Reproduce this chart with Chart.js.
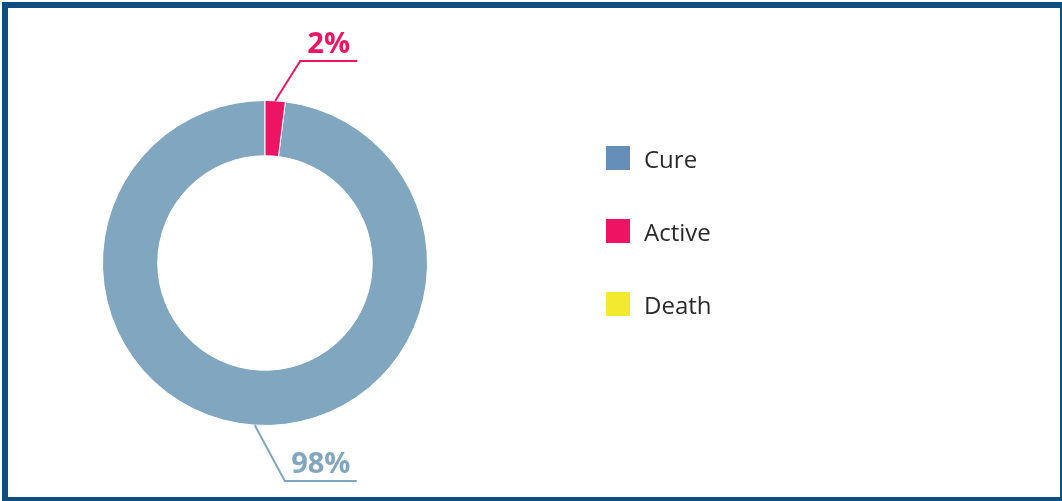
<!DOCTYPE html>
<html>
<head>
<meta charset="utf-8">
<script src="https://cdn.jsdelivr.net/npm/chart.js@4/dist/chart.umd.min.js"></script>
<style>
  html, body { margin: 0; padding: 0; background: #fff; }
  body { width: 1062px; height: 501px; position: relative; overflow: hidden; font-family: "Open Sans", sans-serif; }
  .frame { position: absolute; left: 2px; top: 2px; width: 1064px; height: 501px; border: 6px solid #0e4d80; box-sizing: border-box; }
  #chart { position: absolute; left: 0; top: 0; }
  .legend { position: absolute; left: 606px; top: 146px; margin: 0; padding: 0; list-style: none; }
  .legend li { display: flex; align-items: center; height: 24px; margin-bottom: 49px; font-size: 24px; color: #2a2a2a; }
  .legend span.box { width: 24px; height: 24px; margin-right: 14px; display: inline-block; }
</style>
</head>
<body>
<div class="frame"></div>
<canvas id="chart" width="1062" height="501"></canvas>
<ul class="legend" id="legend"></ul>
<script>
// ----- Dados -----
const categorias = ["Cure", "Active", "Death"];
const valores = [98, 2, 0];
const rotulos = ["98%", "2%", ""];
const coresFatia = ["#80a7bf", "#ee1464", "#f3e92f"];
const coresLegenda = ["#668fb8", "#ee1464", "#f3e92f"];

// ----- Legenda HTML -----
const legend = document.getElementById("legend");
categorias.forEach((c, i) => {
  const li = document.createElement("li");
  li.innerHTML = `<span class="box" style="background:${coresLegenda[i]}"></span><span class="txt">${c}</span>`;
  legend.appendChild(li);
});

// ----- Rótulos com linha de chamada -----
const chamadas = {
  0: { dx: 30, elbowY: 481, len: 72 },
  1: { dx: 25, elbowY: 61, len: 57 }
};

const calloutPlugin = {
  id: "callout",
  afterDraw(chart) {
    const ctx = chart.ctx;
    const meta = chart.getDatasetMeta(0);
    meta.data.forEach((arc, i) => {
      const c = chamadas[i];
      if (!c || !valores[i]) return;
      const p = arc.getProps(["x", "y", "startAngle", "endAngle", "outerRadius"], true);
      const mid = (p.startAngle + p.endAngle) / 2;
      const sx = p.x + Math.cos(mid) * p.outerRadius;
      const sy = p.y + Math.sin(mid) * p.outerRadius;
      const ex = sx + c.dx, ey = c.elbowY;
      ctx.save();
      ctx.strokeStyle = coresFatia[i];
      ctx.lineWidth = 2;
      ctx.beginPath();
      ctx.moveTo(sx, sy);
      ctx.lineTo(ex, ey);
      ctx.lineTo(ex + c.len, ey);
      ctx.stroke();
      ctx.fillStyle = coresFatia[i];
      ctx.font = "bold 29px 'Open Sans'";
      ctx.textAlign = "center";
      ctx.textBaseline = "alphabetic";
      ctx.fillText(rotulos[i], ex + c.len / 2, ey - 8);
      ctx.restore();
    });
  }
};

// ----- Gráfico -----
// a fatia "Active" começa no topo, então gira o início pelo tamanho dela
new Chart(document.getElementById("chart"), {
  type: "doughnut",
  data: {
    labels: categorias,
    datasets: [{ data: valores, backgroundColor: coresFatia, borderColor: "#fff", borderWidth: 1 }]
  },
  options: {
    responsive: false,
    animation: false,
    cutout: "66%",
    rotation: 360 * valores[1] / 100,
    layout: { padding: { left: 102, right: 634, top: 100, bottom: 75 } },
    plugins: { legend: { display: false }, tooltip: { enabled: false } }
  },
  plugins: [calloutPlugin]
});
</script>
</body>
</html>
